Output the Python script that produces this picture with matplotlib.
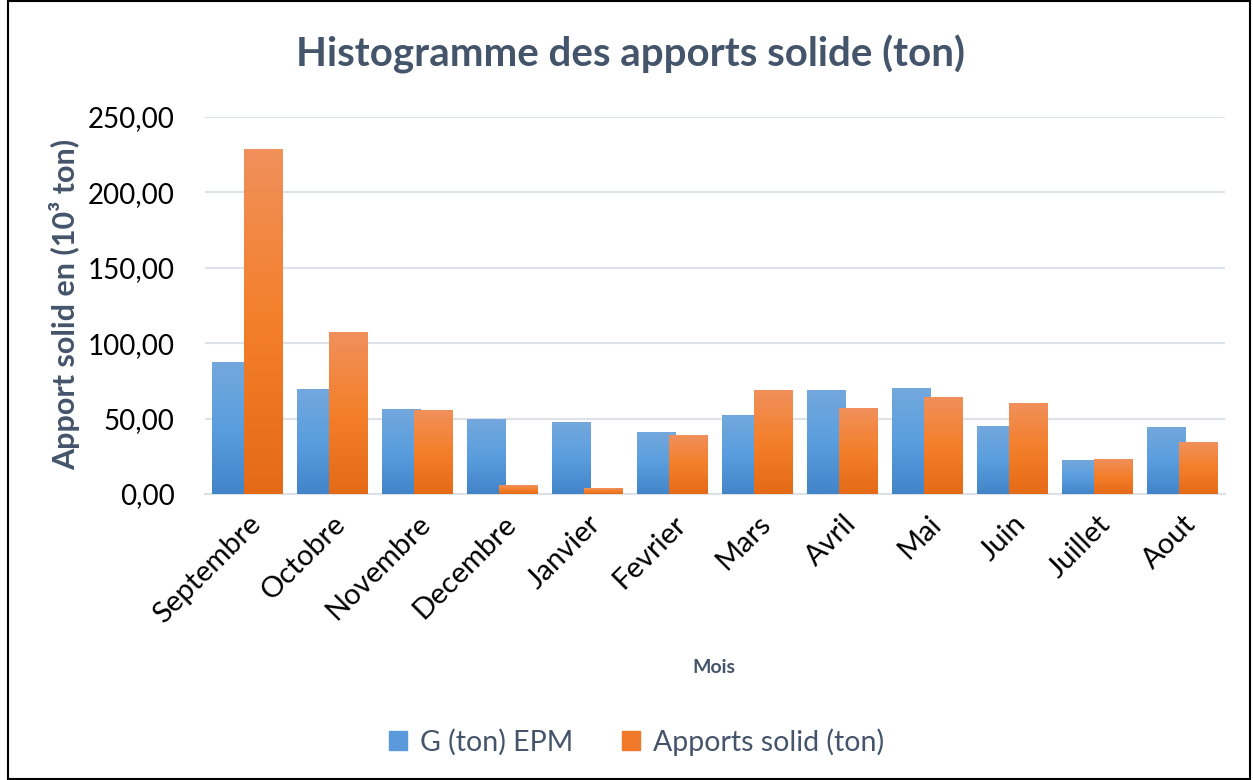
import matplotlib.pyplot as plt
import numpy as np
from matplotlib.colors import LinearSegmentedColormap
from matplotlib.patches import Rectangle

plt.rcParams['font.family'] = ['Lato', 'DejaVu Sans']

mois = ['Septembre', 'Octobre', 'Novembre', 'Decembre', 'Janvier', 'Fevrier',
        'Mars', 'Avril', 'Mai', 'Juin', 'Juillet', 'Aout']
g_epm = [87.5, 69.1, 56.2, 49.5, 47.5, 40.9, 52.2, 68.9, 70.2, 44.9, 22.2, 44.2]
apports = [228.2, 106.9, 55.5, 5.5, 3.5, 38.9, 68.9, 56.9, 64.2, 60.2, 22.9, 34.2]

# bottom -> middle -> top shades of each series
blue_cmap = LinearSegmentedColormap.from_list('blue', ['#4284C8', '#5A9EDF', '#73A8DD'])
orange_cmap = LinearSegmentedColormap.from_list('orange', ['#E46A17', '#F47F2A', '#F0905B'])
grad = np.linspace(0, 1, 256).reshape(-1, 1)

fig = plt.figure(figsize=(12.53, 7.8), dpi=100)
ax = fig.add_axes([0.1636, 0.3667, 0.8141, 0.4833])

x = np.arange(len(mois))
w = 0.457
off = 0.19
bars_g = ax.bar(x - off, g_epm, w, color='#5B9BD5', label='G (ton) EPM', zorder=2)
bars_a = ax.bar(x + off, apports, w, color='#ED7D31', label='Apports solid (ton)', zorder=2)

# replace the flat fill with a vertical gradient per bar (orange sits in front)
for bars, cmap, z in ((bars_g, blue_cmap, 3), (bars_a, orange_cmap, 4)):
    for b in bars:
        x0, y0 = b.get_x(), b.get_y()
        ax.imshow(grad, cmap=cmap, origin='lower', aspect='auto', zorder=z,
                  extent=(x0, x0 + b.get_width(), y0, y0 + b.get_height()))

ax.set_xlim(-0.5, len(mois) - 0.5)
ax.set_ylim(0, 250)
ax.set_yticks(range(0, 251, 50))
ax.set_yticklabels([f'{v},00' for v in range(0, 251, 50)], fontsize=20)
ax.set_xticks(x)
ax.set_xticklabels(mois, rotation=45, ha='right', rotation_mode='anchor', fontsize=21)
ax.tick_params(length=0)
ax.tick_params(axis='x', pad=12)
ax.tick_params(axis='y', pad=22)

ax.grid(axis='y', color='#DDE1E8', linewidth=1.5, zorder=0)
for s in ['top', 'right', 'left']:
    ax.spines[s].set_visible(False)
ax.spines['bottom'].set_color('#DDE1E8')
ax.spines['bottom'].set_linewidth(1.5)

fig.text(0.052, 0.61, 'Apport solid en (10³ ton)', rotation=90, ha='center', va='center',
         fontsize=22, fontweight='bold', color='#44546A')
fig.text(0.57, 0.144, 'Mois', ha='center', va='center',
         fontsize=14, fontweight='bold', color='#44546A')

fig.text(0.503, 0.93, 'Histogramme des apports solide (ton)', ha='center', va='center',
         fontsize=29, fontweight='bold', color='#44546A')

leg = fig.legend(handles=[bars_g, bars_a], loc='center', bbox_to_anchor=(0.508, 0.049),
                 ncol=2, frameon=False, fontsize=20.5, handlelength=0.65, handleheight=0.65,
                 columnspacing=1.7, handletextpad=0.45)
for t in leg.get_texts():
    t.set_color('#44546A')
leg.legend_handles[0].set_color('#5A9ADA')
leg.legend_handles[1].set_color('#F07A2A')

fig.patches.append(Rectangle((0.006, 0.001), 0.992, 0.998, transform=fig.transFigure,
                             fill=False, edgecolor='black', linewidth=1.5))

fig.savefig('out.png', dpi=100)
